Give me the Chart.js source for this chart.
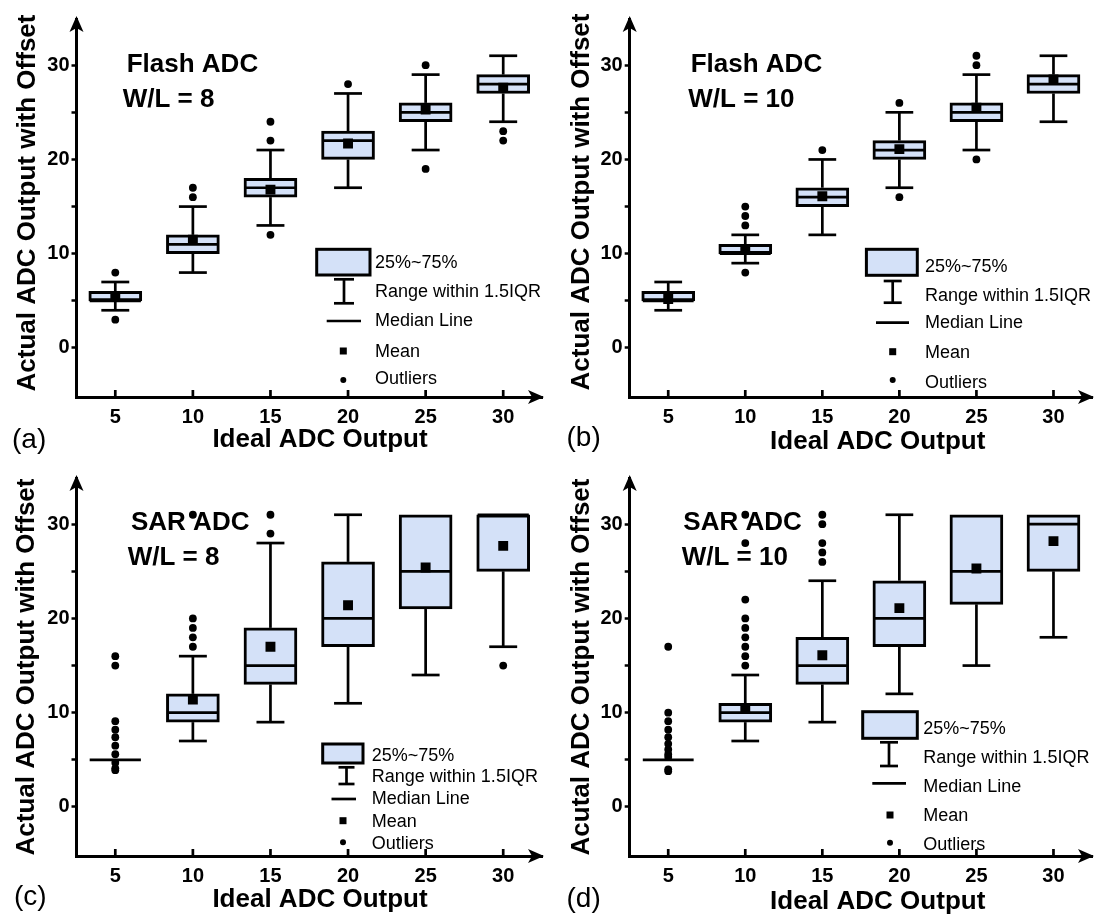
<!DOCTYPE html>
<html>
<head>
<meta charset="utf-8">
<title>Ideal vs actual ADC output</title>
<script src="https://cdn.jsdelivr.net/npm/chart.js@4.4.1/dist/chart.umd.min.js"></script>
<style>
  html, body { margin: 0; padding: 0; background: #fff; }
  #figure { position: relative; width: 1099px; height: 918px; }
  #figure canvas { position: absolute; }
</style>
</head>
<body>
<div id="figure">
  <canvas id="panel-a" width="549" height="459" style="left:0;top:0"></canvas>
  <canvas id="panel-b" width="550" height="459" style="left:549px;top:0"></canvas>
  <canvas id="panel-c" width="549" height="459" style="left:0;top:459px"></canvas>
  <canvas id="panel-d" width="550" height="459" style="left:549px;top:459px"></canvas>
</div>
<script>
// categories and tick labels
const idealOutputs = [5, 10, 15, 20, 25, 30];
const yTickValues = [0, 5, 10, 15, 20, 25, 30];
const legendLabels = ['25%~75%', 'Range within 1.5IQR', 'Median Line', 'Mean', 'Outliers'];

// (a) Flash ADC, W/L = 8
const flash8Q1 = [5, 10, 16, 20, 24, 27];
const flash8Q3 = [6, 12, 18, 23, 26, 29];
const flash8Median = [5, 11, 17, 22, 25, 28];
const flash8Low = [4, 8, 13, 17, 21, 24];
const flash8High = [7, 15, 21, 27, 29, 31];
const flash8Mean = [5.5, 11.5, 16.8, 21.7, 25.3, 27.6];
const flash8Outliers = [[5, 8], [5, 3], [10, 16], [10, 17], [15, 22], [15, 24], [15, 12],
  [20, 28], [25, 30], [25, 19], [30, 23], [30, 22]];

// (b) Flash ADC, W/L = 10
const flash10Q1 = [5, 10, 15, 20, 24, 27];
const flash10Q3 = [6, 11, 17, 22, 26, 29];
const flash10Median = [5, 10, 16, 21, 25, 28];
const flash10Low = [4, 9, 12, 17, 21, 24];
const flash10High = [7, 12, 20, 25, 29, 31];
const flash10Mean = [5.2, 10.5, 16.1, 21.1, 25.5, 28.5];
const flash10Outliers = [[10, 13], [10, 14], [10, 15], [10, 8], [15, 21], [20, 26], [20, 16],
  [25, 30], [25, 31], [25, 20]];

// (c) SAR ADC, W/L = 8
const sar8Q1 = [5, 9, 13, 17, 21, 25];
const sar8Q3 = [5, 12, 19, 26, 31, 31];
const sar8Median = [5, 10, 15, 20, 25, 31];
const sar8Low = [5, 7, 9, 11, 14, 17];
const sar8High = [5, 16, 28, 31, 31, 31];
const sar8Mean = [null, 11.4, 17.0, 21.4, 25.4, 27.7];
const sar8Outliers = [[5, 16], [5, 15], [5, 9.1], [5, 8.2], [5, 7.4], [5, 6.5], [5, 5.6], [5, 4.7],
  [5, 3.9], [5, 4.1], [10, 31], [10, 20], [10, 19], [10, 18], [10, 17], [15, 31], [15, 29], [30, 15]];

// (d) SAR ADC, W/L = 10
const sar10Q1 = [5, 9, 13, 17, 21.5, 25];
const sar10Q3 = [5, 11, 18, 24, 31, 31];
const sar10Median = [5, 10, 15, 20, 25, 30];
const sar10Low = [5, 7, 9, 12, 15, 18];
const sar10High = [5, 14, 24, 31, 31, 31];
const sar10Mean = [null, 10.4, 16.1, 21.1, 25.3, 28.2];
const sar10Outliers = [[5, 17], [5, 10], [5, 9.1], [5, 8.2], [5, 7.4], [5, 6.7], [5, 6.1], [5, 5.6],
  [5, 5.3], [5, 4], [5, 3.8], [10, 31], [10, 28], [10, 22], [10, 20], [10, 19], [10, 18], [10, 17],
  [10, 16], [10, 15], [15, 31], [15, 30], [15, 28], [15, 27], [15, 26]];

const FONT = '"Liberation Sans", Arial, sans-serif';
const BOX_FILL = '#d4e1f8';
const LINE_W = 2.7;
const BOX_HALF = 1.65; // x units
const CAP_HALF = 0.9;

const panels = [
  {
    id: 'panel-a', width: 549, axisLeft: 76.5, plotRight: 544.5,
    q1: flash8Q1, q3: flash8Q3, median: flash8Median, low: flash8Low, high: flash8High,
    mean: flash8Mean, outliers: flash8Outliers,
    titles: [['Flash ADC', 126.7, 65], ['W/L = 8', 122.7, 100]],
    tag: ['(a)', 12, 440],
    yTitle: ['Actual ADC Output with Offset', 28, 203],
    xTitle: ['Ideal ADC Output', 320, 440],
    legend: { box: [316.7, 249.3, 370, 275], wx: 344, wTop: 279.3, wBot: 303.3, cap: 10,
      med: [326.7, 361, 321], mark: [343.3, 351, 380], tx: 375, rows: [262.7, 291.7, 321, 351.7, 379.3] }
  },
  {
    id: 'panel-b', width: 550, axisLeft: 80.7, plotRight: 548,
    q1: flash10Q1, q3: flash10Q3, median: flash10Median, low: flash10Low, high: flash10High,
    mean: flash10Mean, outliers: flash10Outliers,
    titles: [['Flash ADC', 141.7, 65], ['W/L = 10', 139.3, 100]],
    tag: ['(b)', 17.5, 438],
    yTitle: ['Actual ADC Output with Offset', 32.5, 202],
    xTitle: ['Ideal ADC Output', 328.7, 441.7],
    legend: { box: [317.4, 249.3, 368.3, 275.3], wx: 343.7, wTop: 281, wBot: 302.7, cap: 9,
      med: [327, 360, 322.7], mark: [343.7, 351.7, 380], tx: 376, rows: [266.7, 295.7, 323.3, 352.7, 382.7] }
  },
  {
    id: 'panel-c', width: 549, axisLeft: 76.5, plotRight: 544.5,
    q1: sar8Q1, q3: sar8Q3, median: sar8Median, low: sar8Low, high: sar8High,
    mean: sar8Mean, outliers: sar8Outliers,
    titles: [['SAR ADC', 131, 64.3], ['W/L = 8', 127.7, 98.7]],
    tag: ['(c)', 14, 438],
    yTitle: ['Actual ADC Output with Offset', 27, 208],
    xTitle: ['Ideal ADC Output', 320, 440.7],
    legend: { box: [322.7, 285, 363, 304], wx: 346.5, wTop: 308.3, wBot: 325, cap: 8,
      med: [331.5, 356, 340], mark: [343, 361.7, 383.3], tx: 371.8, rows: [296.7, 318.3, 340, 362.7, 385] }
  },
  {
    id: 'panel-d', width: 550, axisLeft: 80.7, plotRight: 548,
    q1: sar10Q1, q3: sar10Q3, median: sar10Median, low: sar10Low, high: sar10High,
    mean: sar10Mean, outliers: sar10Outliers,
    titles: [['SAR ADC', 134.3, 64.3], ['W/L = 10', 132.7, 98.7]],
    tag: ['(d)', 17.5, 440],
    yTitle: ['Acutal ADC Output with Offset', 32.5, 208],
    xTitle: ['Ideal ADC Output', 328.7, 443],
    legend: { box: [313.7, 252.7, 368.3, 279.3], wx: 340, wTop: 283.3, wBot: 307, cap: 9,
      med: [323.3, 357, 324.3], mark: [341, 356, 383.7], tx: 374.3, rows: [270.3, 299.3, 327.7, 357, 386] }
  }
];

function seg(ctx, x1, y1, x2, y2) {
  ctx.beginPath();
  ctx.moveTo(x1, y1);
  ctx.lineTo(x2, y2);
  ctx.stroke();
}

function boxExtras(p) {
  return {
    id: 'boxExtras',
    // whiskers and median lines, drawn right after the boxes
    afterDatasetDraw: function (chart, args) {
      if (args.index !== 0) return;
      const ctx = chart.ctx;
      const xs = chart.scales.x;
      const ys = chart.scales.y;
      ctx.save();
      ctx.strokeStyle = '#000';
      ctx.lineWidth = LINE_W;
      idealOutputs.forEach(function (c, i) {
        const px = xs.getPixelForValue(c);
        const hb = xs.getPixelForValue(c + BOX_HALF) - px;
        const hc = xs.getPixelForValue(c + CAP_HALF) - px;
        const ym = ys.getPixelForValue(p.median[i]);
        seg(ctx, px - hb, ym, px + hb, ym);
        if (p.high[i] > p.q3[i]) {
          const yh = ys.getPixelForValue(p.high[i]);
          seg(ctx, px, ys.getPixelForValue(p.q3[i]), px, yh);
          seg(ctx, px - hc, yh, px + hc, yh);
        }
        if (p.low[i] < p.q1[i]) {
          const yl = ys.getPixelForValue(p.low[i]);
          seg(ctx, px, ys.getPixelForValue(p.q1[i]), px, yl);
          seg(ctx, px - hc, yl, px + hc, yl);
        }
      });
      ctx.restore();
    },
    afterDraw: function (chart) {
      const ctx = chart.ctx;
      const a = chart.chartArea;
      const xs = chart.scales.x;
      ctx.save();
      ctx.fillStyle = '#000';
      ctx.strokeStyle = '#000';
      ctx.lineWidth = LINE_W;

      // arrow heads
      ctx.beginPath();
      ctx.moveTo(a.left, a.top - 3);
      ctx.lineTo(a.left - 7, a.top + 13);
      ctx.lineTo(a.left, a.top + 9);
      ctx.lineTo(a.left + 7, a.top + 13);
      ctx.closePath();
      ctx.fill();
      ctx.beginPath();
      ctx.moveTo(a.right + 2, a.bottom);
      ctx.lineTo(a.right - 14, a.bottom - 7);
      ctx.lineTo(a.right - 10, a.bottom);
      ctx.lineTo(a.right - 14, a.bottom + 7);
      ctx.closePath();
      ctx.fill();

      // x ticks point inward
      idealOutputs.forEach(function (v) {
        const px = xs.getPixelForValue(v);
        seg(ctx, px, a.bottom, px, a.bottom - 7);
      });

      ctx.textBaseline = 'middle';
      ctx.font = 'bold 26px ' + FONT;
      ctx.textAlign = 'left';
      p.titles.forEach(function (t) { ctx.fillText(t[0], t[1], t[2]); });

      ctx.textAlign = 'center';
      ctx.fillText(p.xTitle[0], p.xTitle[1], p.xTitle[2]);
      ctx.save();
      ctx.translate(p.yTitle[1], p.yTitle[2]);
      ctx.rotate(-Math.PI / 2);
      ctx.fillText(p.yTitle[0], 0, 0);
      ctx.restore();

      ctx.textAlign = 'left';
      ctx.font = '28px ' + FONT;
      ctx.fillText(p.tag[0], p.tag[1], p.tag[2]);

      // legend
      const L = p.legend;
      ctx.fillStyle = BOX_FILL;
      ctx.fillRect(L.box[0], L.box[1], L.box[2] - L.box[0], L.box[3] - L.box[1]);
      ctx.lineWidth = 3;
      ctx.strokeRect(L.box[0], L.box[1], L.box[2] - L.box[0], L.box[3] - L.box[1]);
      ctx.lineWidth = LINE_W;
      ctx.fillStyle = '#000';
      seg(ctx, L.wx, L.wTop, L.wx, L.wBot);
      seg(ctx, L.wx - L.cap, L.wTop, L.wx + L.cap, L.wTop);
      seg(ctx, L.wx - L.cap, L.wBot, L.wx + L.cap, L.wBot);
      seg(ctx, L.med[0], L.med[2], L.med[1], L.med[2]);
      ctx.fillRect(L.mark[0] - 3.5, L.mark[1] - 3.5, 7, 7);
      ctx.beginPath();
      ctx.arc(L.mark[0], L.mark[2], 3, 0, Math.PI * 2);
      ctx.fill();
      ctx.font = '18px ' + FONT;
      legendLabels.forEach(function (s, i) { ctx.fillText(s, L.tx, L.rows[i]); });
      ctx.restore();
    }
  };
}

function makeChart(p) {
  const boxes = idealOutputs.map(function (x, i) { return { x: x, y: [p.q1[i], p.q3[i]] }; });
  const means = idealOutputs.map(function (x, i) { return { x: x, y: p.mean[i] }; })
    .filter(function (pt) { return pt.y !== null; });
  const outs = p.outliers.map(function (o) { return { x: o[0], y: o[1] }; });
  const tickFont = { family: FONT, size: 20, weight: 'bold' };

  new Chart(document.getElementById(p.id), {
    type: 'scatter',
    data: {
      datasets: [
        { type: 'bar', label: '25%~75%', data: boxes, backgroundColor: BOX_FILL, borderColor: '#000',
          borderWidth: 3, borderSkipped: false, barThickness: 53, order: 3 },
        { label: 'Mean', data: means, pointStyle: 'rect', pointRadius: 7, backgroundColor: '#000',
          borderWidth: 0, order: 1 },
        { label: 'Outliers', data: outs, pointStyle: 'circle', pointRadius: 3.9, backgroundColor: '#000',
          borderWidth: 0, order: 0 }
      ]
    },
    options: {
      responsive: false,
      animation: false,
      events: [],
      layout: { padding: { top: 19, right: p.width - p.plotRight, left: 0, bottom: 0 } },
      plugins: { legend: { display: false }, tooltip: { enabled: false } },
      scales: {
        x: {
          type: 'linear', min: 2.5, max: 32.5, offset: false,
          afterFit: function (s) { s.height = 62; },
          afterBuildTicks: function (s) { s.ticks = idealOutputs.map(function (v) { return { value: v }; }); },
          grid: { display: false, drawTicks: false, offset: false },
          border: { display: true, color: '#000', width: 3 },
          ticks: { color: '#000', font: tickFont, padding: 8, autoSkip: false, maxRotation: 0 }
        },
        y: {
          type: 'linear', min: -5.2, max: 34.9, beginAtZero: false,
          afterFit: function (s) { s.width = p.axisLeft; },
          afterBuildTicks: function (s) { s.ticks = yTickValues.map(function (v) { return { value: v }; }); },
          grid: { display: true, drawOnChartArea: false, drawTicks: true, tickLength: 5,
            tickWidth: 2.5, tickColor: '#000', color: '#000' },
          border: { display: true, color: '#000', width: 3 },
          ticks: { color: '#000', font: tickFont, padding: 2, autoSkip: false,
            callback: function (v) { return v % 10 === 0 ? v : ''; } }
        }
      }
    },
    plugins: [boxExtras(p)]
  });
}

panels.forEach(makeChart);
</script>
</body>
</html>
